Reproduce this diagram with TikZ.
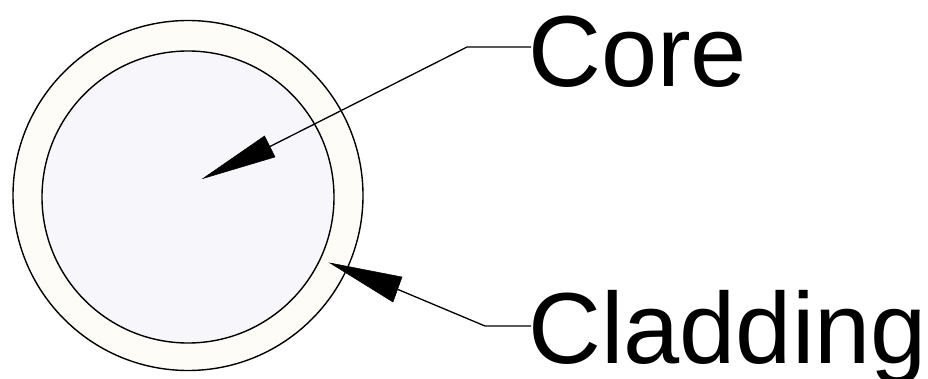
\documentclass[tikz,border=0pt]{standalone}
\usepackage{fontspec}
\setmainfont{Liberation Sans}
\definecolor{corefill}{RGB}{247,246,251}
\definecolor{cladfill}{RGB}{253,252,246}
\begin{document}
\begin{tikzpicture}[x=1pt,y=-1pt,
  ring/.style={draw=black,line width=1.4pt},
  leader/.style={draw=black,line width=1.3pt},
  head/.style={fill=black,draw=black,line width=0.5pt,line join=miter},
  label/.style={inner sep=0pt,anchor=base west,font=\fontsize{101}{101}\selectfont}]
\useasboundingbox (0,0) rectangle (928,379);
\fill[white] (0,0) rectangle (928,379);
% circles
\draw[ring,fill=cladfill] (188,195.5) circle (175);
\draw[ring,fill=corefill] (188,197) circle (146);
% labels
\node[label] (core) at (528,87) {Core};
\node[label] (clad) at (528,363) {Cladding};
% core leader
\coordinate (cend) at (531,47);
\coordinate (celb) at (467,47);
\coordinate (cbase) at (270,146.5);
\coordinate (ctip) at (203,178.5);
\draw[leader] (cend) -- (celb) -- (cbase);
\filldraw[head] (ctip) -- (264.5,136) -- (275,157) -- cycle;
% cladding leader
\coordinate (lend) at (531,326);
\coordinate (lelb) at (485,326);
\coordinate (lbase) at (398,289.5);
\coordinate (ltip) at (330,263);
\draw[leader] (lend) -- (lelb) -- (lbase);
\filldraw[head] (ltip) -- (402,277) -- (393,302) -- cycle;
\end{tikzpicture}
\end{document}
